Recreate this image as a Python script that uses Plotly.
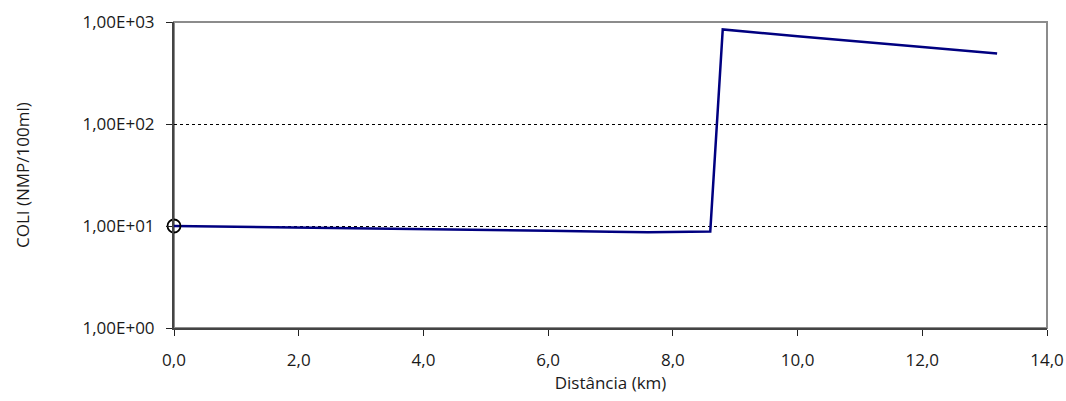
import plotly.graph_objects as go

# Data
distance_km = [0.0, 1.0, 2.0, 3.0, 4.0, 5.0, 6.0, 7.0, 7.6, 8.6, 8.8, 10.0, 11.0, 12.0, 13.2]
coli = [10.0, 9.85, 9.7, 9.5, 9.35, 9.2, 9.0, 8.8, 8.7, 8.85, 845.0, 725.0, 645.0, 570.0, 490.0]

start_x = [0.0]
start_y = [10.0]

x_ticks = [0, 2, 4, 6, 8, 10, 12, 14]
x_ticktext = ["0,0", "2,0", "4,0", "6,0", "8,0", "10,0", "12,0", "14,0"]
y_ticks = [1, 10, 100, 1000]
y_ticktext = ["1,00E+00", "1,00E+01", "1,00E+02", "1,00E+03"]

font_family = "Open Sans, Noto Sans, sans-serif"
fs = 17

ml, mr, mt, mb = 174, 19, 22, 73
W, H = 1066, 401
plot_w = W - ml - mr

fig = go.Figure()

fig.add_trace(go.Scatter(
    x=distance_km, y=coli, mode="lines",
    line=dict(color="#000080", width=2.5),
    showlegend=False, hoverinfo="x+y",
))
fig.add_trace(go.Scatter(
    x=start_x, y=start_y, mode="markers",
    marker=dict(symbol="circle-open", size=13, color="black", line=dict(width=1.8, color="black")),
    showlegend=False, cliponaxis=False,
))

# Gray frame (top/right)
fig.add_shape(type="rect", xref="paper", yref="paper", x0=0, x1=1, y0=0, y1=1,
              line=dict(color="#8c8c8c", width=2), layer="below")

# Y-axis title as annotation for precise placement
fig.add_annotation(
    text="COLI (NMP/100ml)", textangle=-90,
    xref="paper", yref="paper", x=(22 - ml) / plot_w, y=0.5,
    xanchor="center", yanchor="middle", showarrow=False,
    font=dict(size=fs, family=font_family, color="#1a1a1a"),
)

fig.update_layout(
    width=W, height=H,
    margin=dict(l=ml, r=mr, t=mt, b=mb),
    paper_bgcolor="white", plot_bgcolor="white",
    font=dict(family=font_family, size=fs, color="#1a1a1a"),
    xaxis=dict(
        range=[0, 14], tickvals=x_ticks, ticktext=x_ticktext,
        showgrid=False, zeroline=False, automargin=False,
        showline=True, linecolor="#444444", linewidth=2,
        ticks="outside", ticklen=6, tickcolor="#222222", tickwidth=1,
        ticklabelstandoff=10,
        title=dict(text="Distância (km)", font=dict(size=fs), standoff=6),
        tickfont=dict(size=fs),
    ),
    yaxis=dict(
        type="log", range=[0, 3], tickvals=y_ticks, ticktext=y_ticktext,
        showgrid=True, gridcolor="black", gridwidth=0.8, griddash="dot",
        zeroline=False, automargin=False,
        showline=True, linecolor="#444444", linewidth=2,
        ticks="outside", ticklen=6, tickcolor="#222222", tickwidth=1,
        ticklabelstandoff=8,
        tickfont=dict(size=fs),
    ),
)

fig.write_html("out.html")
